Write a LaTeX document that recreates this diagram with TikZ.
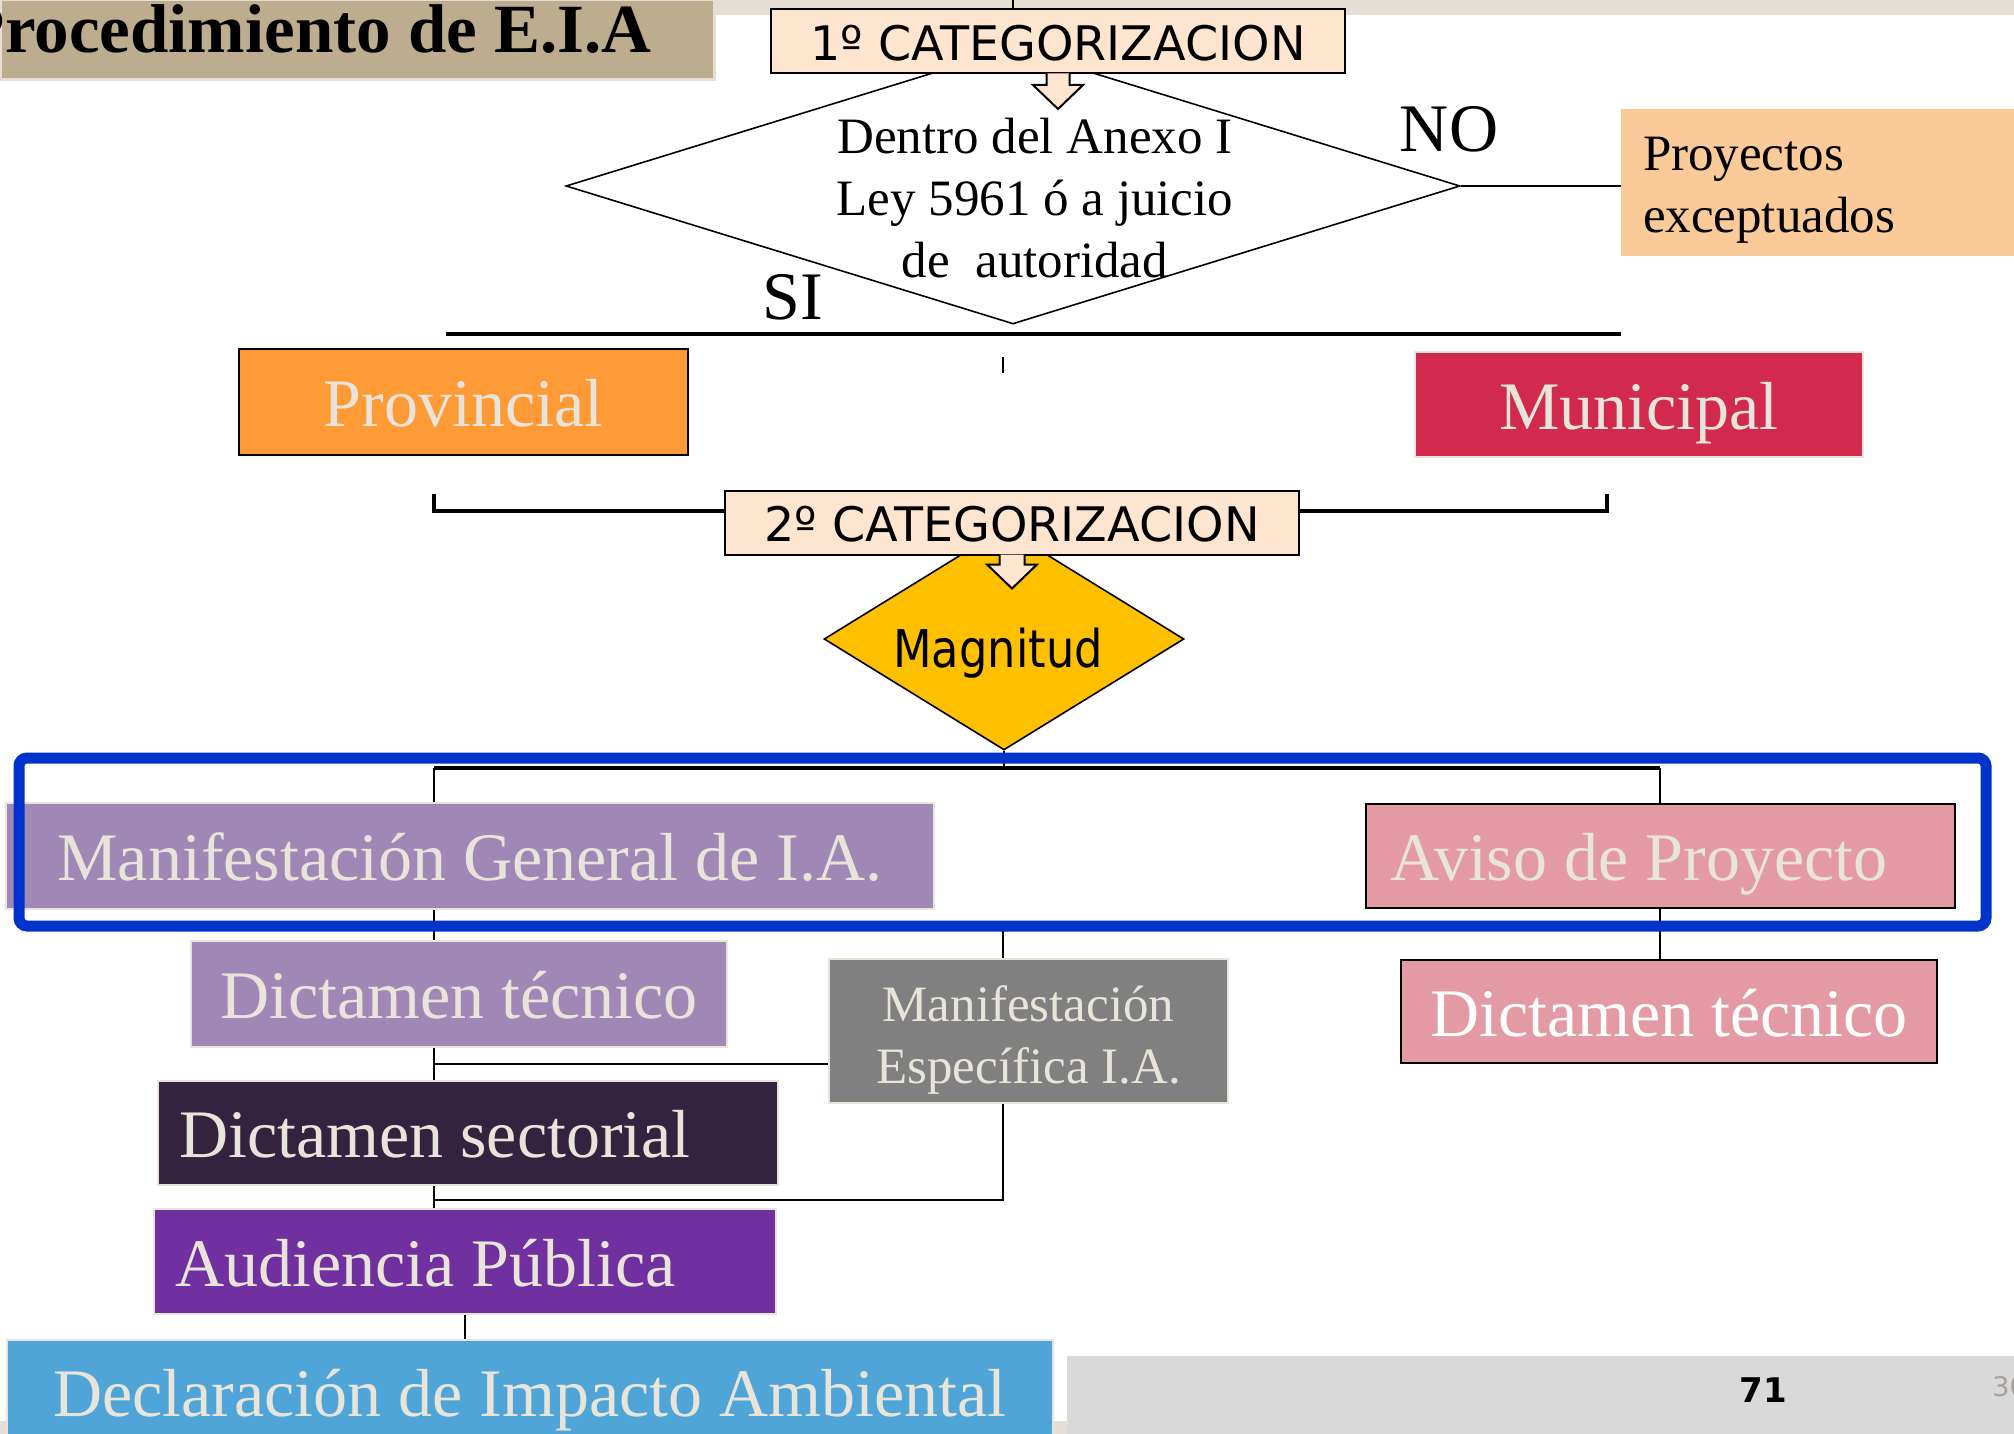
\documentclass[tikz,border=0pt]{standalone}
\usepackage{fontspec}
\setmainfont{Liberation Serif}
\newfontfamily\vsans{DejaVu Sans}
\usepackage{xcolor}
\usepackage{graphicx}
\usepackage{tikz}
\usetikzlibrary{shapes.geometric}
\definecolor{TitleTan}{RGB}{187,173,142}
\definecolor{TopStrip}{RGB}{228,222,212}
\definecolor{PeachBox}{RGB}{253,229,207}
\definecolor{ExceptOrange}{RGB}{250,203,152}
\definecolor{ProvOrange}{RGB}{255,155,55}
\definecolor{MuniRed}{RGB}{210,42,76}
\definecolor{MagGold}{RGB}{255,192,0}
\definecolor{FrameBlue}{RGB}{0,51,204}
\definecolor{Lavender}{RGB}{160,136,182}
\definecolor{RosePink}{RGB}{228,154,164}
\definecolor{MidGray}{RGB}{128,128,128}
\definecolor{DarkPlum}{RGB}{51,35,63}
\definecolor{Violet}{RGB}{112,48,160}
\definecolor{SkyBlue}{RGB}{79,165,216}
\definecolor{CreamText}{RGB}{233,228,218}
\definecolor{FootGray}{RGB}{217,217,217}
\definecolor{PageGray}{RGB}{168,163,154}

\begin{document}
\begin{tikzpicture}[x=0.5pt,y=-0.5pt,
  box/.style={inner sep=0pt,text=CreamText,draw=CreamText,line width=1.2pt,align=center},
  big/.style={box,text height=24.5pt,text depth=0pt,font=\fontsize{34}{40}\selectfont},
  catbox/.style={draw=black,line width=1pt,fill=PeachBox,inner sep=0pt,minimum width=287pt,minimum height=32pt,text height=19pt,text depth=0pt,font=\vsans\fontsize{23.8}{28}\selectfont},
  dia/.style={diamond,draw=black,line width=0.8pt,inner sep=0pt},
  blk/.style={draw=black,line width=1pt,fill=PeachBox},
  ln/.style={line width=1pt},
  bar/.style={line width=1.6pt},
  lbl/.style={inner sep=0pt,anchor=base,font=\fontsize{34}{40}\selectfont},
  frame/.style={draw=FrameBlue,line width=5.5pt,rounded corners=4pt}
]
\useasboundingbox (0,0) rectangle (2014,1434);
\fill[TopStrip] (714,0) rectangle (2014,15);
\node[fill=TitleTan,draw=TopStrip,line width=1.5pt,minimum width=357pt,minimum height=40pt,inner sep=0pt] (title) at (357,40) {};
\node[inner sep=0pt,anchor=base east,font=\bfseries\fontsize{34.5}{40}\selectfont] (titletxt) at (652,53) {Procedimiento de E.I.A};

\node[dia,fill=white,minimum width=447pt,minimum height=138pt] (dia1) at (1013,186) {};
\node[inner sep=0pt,align=center,font=\fontsize{25.5}{31}\selectfont] (dia1txt) at (1035,198) {Dentro del Anexo I\\Ley 5961 ó a juicio\\de~~autoridad};
\node[catbox] (cat1) at (1058,41.5) {1º CATEGORIZACION};
\draw[blk] ([xshift=-5.75pt,yshift=0.5pt]cat1.south) -- ++(0,11.5) -- ++(-13.5,0) -- ++(25,24) -- ++(25,-24) -- ++(-13.5,0) -- ++(0,-11.5);
\draw[ln] (dia1.north |- cat1.north) -- ++(0,-12);
\node[lbl] (no) at (1449,152) {NO};
\node[lbl] (si) at (793,319) {SI};
\node[fill=ExceptOrange,inner sep=0pt,minimum width=204pt,minimum height=73.5pt] (exc) at (1825,182.5) {};
\node[inner sep=0pt,anchor=west,align=flush left,font=\fontsize{25.5}{31}\selectfont,xshift=11pt,yshift=-4pt] (exctxt) at (exc.west) {Proyectos\\exceptuados};
\draw[ln] (dia1.east) -- (dia1.east -| exc.west);

\coordinate (siL) at (446,334);
\coordinate (siR) at (1621,334);
\draw[bar] (siL) -- (siR);
\coordinate (tick) at (1003,357);
\draw[ln] (tick) -- ++(0,16);
\node[big,fill=ProvOrange,draw=black,minimum width=224.5pt,minimum height=53pt] (prov) at (463.5,402) {Provincial};
\node[big,fill=MuniRed,minimum width=224pt,minimum height=52.5pt] (muni) at (1639,404.5) {Municipal};

\node[dia,fill=MagGold,minimum width=180pt,minimum height=111pt] (mag) at (1004,639) {};
\node[inner sep=0pt,anchor=base,font=\vsans\fontsize{26}{31}\selectfont] (magtxt) at (998,667) {\scalebox{0.86}[1]{Magnitud}};
\node[catbox] (cat2) at (1012,522.5) {2º CATEGORIZACION};
\draw[blk] ([xshift=-6.25pt,yshift=0.5pt]cat2.south) -- ++(0,10) -- ++(-12.5,0) -- ++(25,24) -- ++(25,-24) -- ++(-12.5,0) -- ++(0,-10);
\coordinate (brL) at (434,494);
\coordinate (brLb) at (434,511);
\coordinate (brR) at (1607,494);
\coordinate (brRb) at (1607,511);
\draw[bar] (brL) -- (brLb) -- (brLb -| cat2.west);
\draw[bar] (brR) -- (brRb) -- (brRb -| cat2.east);

\coordinate (hubL) at (434,768);
\coordinate (hubR) at (1660,768);
\draw[ln] (mag.south) -- (mag.south |- hubL);
\draw[bar] (hubL) -- (hubR);
\node[big,fill=Lavender,minimum width=464pt,minimum height=53pt] (mgia) at (470,856) {Manifestación General de I.A.};
\node[big,fill=RosePink,draw=black,align=flush left,inner xsep=12pt,text width=270.5pt,minimum height=52pt] (aviso) at (1660.5,856) {Aviso de Proyecto};
\draw[ln] (hubL) -- (hubL |- mgia.north);
\draw[ln] (hubR) -- (hubR |- aviso.north);

\node[big,fill=Lavender,minimum width=268pt,minimum height=53pt] (dtl) at (459,994) {Dictamen técnico};
\node[big,fill=RosePink,draw=black,text=white,minimum width=268pt,minimum height=51.5pt] (dtr) at (1669,1011.5) {Dictamen técnico};
\node[box,fill=MidGray,minimum width=199.5pt,minimum height=72pt] (me) at (1028.5,1031) {};
\node[inner sep=0pt,align=center,text=CreamText,font=\fontsize{25.5}{31}\selectfont,yshift=-4.5pt] (metxt) at (me) {Manifestación\\Específica I.A.};
\draw[ln] (aviso.south -| hubR) -- (dtr.north -| hubR);
\draw[ln] (mgia.south -| hubL) -- (dtl.north -| hubL);
\node[big,fill=DarkPlum,align=flush left,inner xsep=10.5pt,text width=289pt,minimum height=52pt] (dsec) at (468,1133) {Dictamen sectorial};
\draw[ln] (dtl.south -| hubL) -- (dsec.north -| hubL);
\coordinate (brA) at (434,1064);
\draw[ln] (brA) -- (brA -| me.west);
\node[big,fill=Violet,align=flush left,inner xsep=10.5pt,text width=290pt,minimum height=52.5pt] (aud) at (465,1261.5) {Audiencia Pública};
\draw[ln] (dsec.south -| hubL) -- (aud.north -| hubL);
\coordinate (brB) at (434,1200);
\coordinate (meX) at (1003,926);
\draw[line width=1.3pt] (brB) -| (meX |- me.south);
\draw[ln] (meX) -- (meX |- me.north);

\fill[TopStrip] (0,1421) rectangle (1067,1434);
\node[big,fill=SkyBlue,minimum width=523pt,minimum height=52pt] (decl) at (530,1392) {Declaración de Impacto Ambiental};
\draw[ln] (aud.south) -- (aud.south |- decl.north);

\draw[frame] (19,758) rectangle (1986,926);

\fill[FootGray] (1067,1356) rectangle (2030,1450);
\node[inner sep=0pt,anchor=base,font=\vsans\bfseries\fontsize{17}{20}\selectfont] (pgnum) at (1763,1402) {71};
\node[inner sep=0pt,anchor=base west,text=PageGray,font=\vsans\fontsize{13.5}{16}\selectfont] (pgtot) at (1992,1396) {30};
\end{tikzpicture}
\end{document}
